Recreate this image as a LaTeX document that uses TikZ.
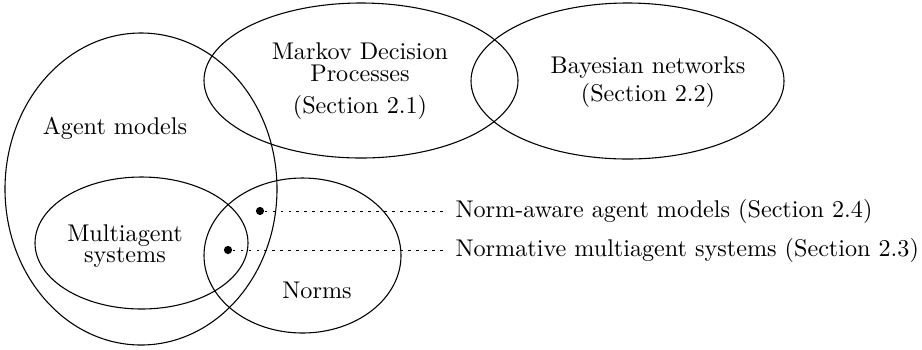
\documentclass[tikz,border=0pt]{standalone}
\usetikzlibrary{shapes.geometric}
\begin{document}
\begin{tikzpicture}[x=0.414pt,y=-0.414pt,
  set/.style={draw, ellipse, inner sep=0pt, line width=0.45pt},
  lbl/.style={align=center, inner sep=0pt},
  pindot/.style={circle, fill, inner sep=0pt, minimum size=3.4pt},
  leader/.style={dash pattern=on 1.2pt off 2.1pt, line width=0.4pt}]
\useasboundingbox (0,0) rectangle (922,349);

% the sets
\node[set, minimum width=272*0.414pt, minimum height=312*0.414pt] (agent) at (141,189) {};
\node[set, minimum width=314*0.414pt, minimum height=155*0.414pt] (mdp) at (361,80.5) {};
\node[set, minimum width=313*0.414pt, minimum height=156*0.414pt] (bn) at (627.5,81) {};
\node[set, minimum width=213*0.414pt, minimum height=132*0.414pt] (mas) at (141.5,243) {};
\node[set, minimum width=197*0.414pt, minimum height=155*0.414pt] (norms) at (302.5,255.5) {};

% set names
\node[lbl] (agentlbl) at (115,128) {Agent models};
\node[lbl] (mdplbl) at (360,81) {Markov Decision\\[-2.9pt]Processes\\[1.3pt](Section 2.1)};
\node[lbl] (bnlbl) at (648,82) {Bayesian networks\\[-0.3pt](Section 2.2)};
\node[lbl] (maslbl) at (125,246) {Multiagent\\[-3pt]systems};
\node[lbl] (normslbl) at (317,290) {Norms};

% intersections and their descriptions
\node[pindot] (p1) at (260,211) {};
\node[pindot] (p2) at (228,250) {};
\node[anchor=west] (d1) at (447,211) {Norm-aware agent models (Section 2.4)};
\node[anchor=west] (d2) at (447,250) {Normative multiagent systems (Section 2.3)};
\draw[leader] (p1) -- (d1.west);
\draw[leader] (p2) -- (d2.west);
\end{tikzpicture}
\end{document}
